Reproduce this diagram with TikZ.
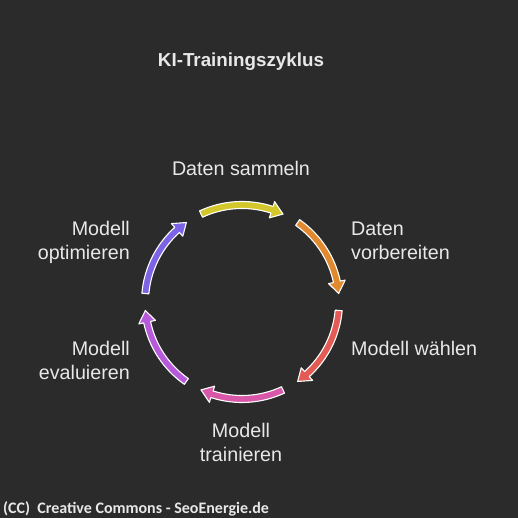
\documentclass[tikz,border=0pt]{standalone}
\usepackage{fontspec}
\setmainfont{Liberation Sans}
\newfontfamily\footfont{Carlito}
\definecolor{bgc}{HTML}{2B2B2B}
\definecolor{txtc}{HTML}{E8E8E8}
\definecolor{yellowc}{HTML}{D4C72B}
\definecolor{orangec}{HTML}{E0892F}
\definecolor{redc}{HTML}{E35B54}
\definecolor{pinkc}{HTML}{D957A9}
\definecolor{purplec}{HTML}{B65ADB}
\definecolor{violetc}{HTML}{7D63E6}
\tikzset{
  lbl/.style={text=txtc, font=\fontsize{19.7}{24}\selectfont, inner sep=0pt, align=#1},
  lbl/.default=center,
  cyclearrow/.style={fill=#1, draw=white, line width=1.1pt, line join=round}
}
\begin{document}
\begin{tikzpicture}[x=1pt,y=1pt]
\fill[bgc] (0,0) rectangle (518,518);
\useasboundingbox (0,0) rectangle (518,518);
% title
\node[text=txtc, font=\bfseries\fontsize{18.8}{22}\selectfont, inner sep=0pt, anchor=base] (title) at (241,451) {KI-Trainingszyklus};
% cycle arrows
\begin{scope}[shift={(242,216)}]
\coordinate (center) at (0,0);
\foreach \a/\col in {120/yellowc, 60/orangec, 0/redc, -60/pinkc, -120/purplec, 180/violetc}{
  \pgfmathsetmacro{\sa}{\a-5}
  \pgfmathsetmacro{\ea}{\a-48}
  \pgfmathsetmacro{\ta}{\a-55}
  \filldraw[cyclearrow=\col] (\sa:100.5) arc[start angle=\sa, end angle=\ea, radius=100.5]
     -- (\ea:105.5) -- (\ta:97) -- (\ea:88.5) -- (\ea:93.5)
     arc[start angle=\ea, end angle=\sa, radius=93.5] -- cycle;
}
\end{scope}
% labels
\node[lbl, anchor=base] (sammeln) at (241,342) {Daten sammeln};
\node[lbl=left, anchor=base west] (vorb1) at (351,282) {Daten};
\node[lbl=left, anchor=base west] (vorb2) at (351,258) {vorbereiten};
\node[lbl=left, anchor=base west] (waehlen) at (351,162) {Modell wählen};
\node[lbl, anchor=base] (train1) at (241,80) {Modell};
\node[lbl, anchor=base] (train2) at (241,56) {trainieren};
\node[lbl, anchor=base east] (eval1) at (130,162) {Modell};
\node[lbl, anchor=base east] (eval2) at (130,138) {evaluieren};
\node[lbl, anchor=base east] (opt1) at (130,282) {Modell};
\node[lbl, anchor=base east] (opt2) at (130,258) {optimieren};
% footer
\node[text=txtc, font=\footfont\bfseries\fontsize{16}{19}\selectfont, inner sep=0pt, anchor=base west] (footer) at (3,5) {(CC)\ \ Creative Commons - SeoEnergie.de};
\end{tikzpicture}
\end{document}
